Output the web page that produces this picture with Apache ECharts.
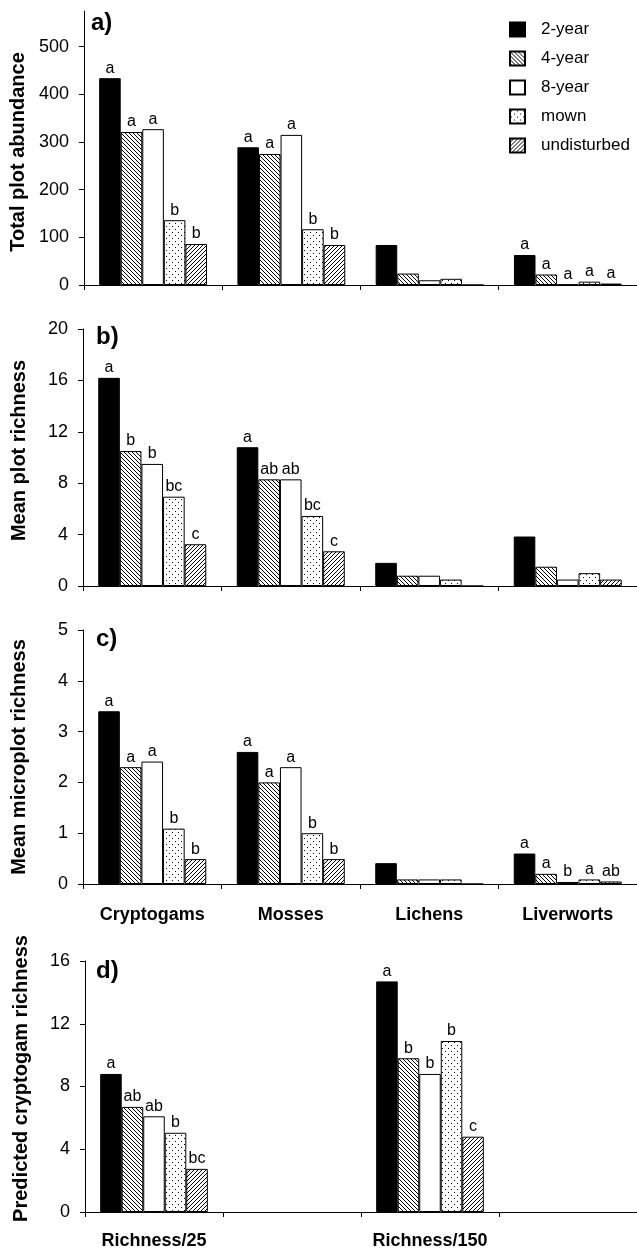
<!DOCTYPE html>
<html lang="en">
<head>
<meta charset="UTF-8">
<title>Cryptogam abundance and richness</title>
<script src="https://cdn.jsdelivr.net/npm/echarts@6/dist/echarts.min.js"></script>
<style>
  html, body { margin: 0; padding: 0; background: #fff; }
  #chart { width: 637px; height: 1250px; }
</style>
</head>
<body>
<div id="chart"></div>
<script>
// ---- data (rows = treatment, columns = group) ----
var groups = ['Cryptogams', 'Mosses', 'Lichens', 'Liverworts'];
var groupsD = ['Richness/25', ' ', 'Richness/150', '  '];
var treatments = ['2-year', '4-year', '8-year', 'mown', 'undisturbed'];

// a) total plot abundance
var abundance = [
    [434, 289, 84, 63],
    [321, 275, 24, 22],
    [327, 315, 10, 1],
    [136, 117, 13, 7],
    [86, 84, 0, 3]
];
var abundanceLetters = [
    ['a', 'a', '', 'a'],
    ['a', 'a', '', 'a'],
    ['a', 'a', '', 'a'],
    ['b', 'b', '', 'a'],
    ['b', 'b', '', 'a']
];
var abundanceTicks = [0, 100, 200, 300, 400, 500];

// b) mean plot richness
var plotRich = [
    [16.2, 10.8, 1.8, 3.85],
    [10.5, 8.3, 0.8, 1.5],
    [9.5, 8.3, 0.8, 0.5],
    [6.95, 5.45, 0.5, 1.0],
    [3.25, 2.7, 0, 0.5]
];
var plotRichLetters = [
    ['a', 'a', '', ''],
    ['b', 'ab', '', ''],
    ['b', 'ab', '', ''],
    ['bc', 'bc', '', ''],
    ['c', 'c', '', '']
];

// c) mean microplot richness
var microRich = [
    [3.4, 2.6, 0.41, 0.6],
    [2.3, 2.0, 0.09, 0.2],
    [2.41, 2.3, 0.09, 0.04],
    [1.09, 1.0, 0.09, 0.09],
    [0.49, 0.49, 0, 0.05]
];
var microRichLetters = [
    ['a', 'a', '', 'a'],
    ['a', 'a', '', 'a'],
    ['a', 'a', '', 'b'],
    ['b', 'b', '', 'a'],
    ['b', 'b', '', 'ab']
];

// d) predicted cryptogam richness
var predRich = [
    [8.8, null, 14.7, null],
    [6.7, null, 9.8, null],
    [6.1, null, 8.8, null],
    [5.05, null, 10.9, null],
    [2.75, null, 4.8, null]
];
var predRichLetters = [
    ['a', '', 'a', ''],
    ['ab', '', 'b', ''],
    ['ab', '', 'b', ''],
    ['b', '', 'b', ''],
    ['bc', '', 'c', '']
];

// ---- fill patterns ----
function pattern(size, draw) {
    var c = document.createElement('canvas');
    c.width = size; c.height = size;
    var ctx = c.getContext('2d');
    ctx.fillStyle = '#fff';
    ctx.fillRect(0, 0, size, size);
    ctx.fillStyle = '#000';
    draw(ctx, size);
    return { image: c, repeat: 'repeat' };
}
var fills = [
    '#000',
    pattern(4, function (ctx, n) { for (var i = 0; i < n; i++) ctx.fillRect(i, i, 1, 1); }),       // "\\\\"
    '#fff',
    pattern(6, function (ctx) { ctx.fillRect(1, 1, 1, 1); ctx.fillRect(4, 4, 1, 1); }),           // dots
    pattern(4, function (ctx, n) { for (var i = 0; i < n; i++) ctx.fillRect(i, n - 1 - i, 1, 1); }) // "////"
];

var font = 'Liberation Sans, Arial, sans-serif';

var panels = [
    { data: abundance, letters: abundanceLetters },
    { data: plotRich, letters: plotRichLetters },
    { data: microRich, letters: microRichLetters },
    { data: predRich, letters: predRichLetters }
];

var series = [];
panels.forEach(function (p, pi) {
    treatments.forEach(function (t, ti) {
        series.push({
            name: t,
            type: 'bar',
            xAxisIndex: pi,
            yAxisIndex: pi,
            data: p.data[ti],
            barGap: '0%',
            barCategoryGap: '22%',
            itemStyle: { color: fills[ti], borderColor: '#000', borderWidth: 1 },
            label: {
                show: true,
                position: 'top',
                distance: 2,
                color: '#000',
                fontFamily: font,
                fontSize: 16,
                formatter: function (prm) { return p.letters[ti][prm.dataIndex]; }
            },
            emphasis: { disabled: true },
            animation: false
        });
    });
});

// pad shifts the rotated axis name along the axis (left = up, right = down)
function yAxis(name, max, interval, pad, ticks) {
    var tick = { show: true, length: 5, lineStyle: { color: '#000' } };
    var label = { color: '#000', fontFamily: font, fontSize: 18, margin: 15 };
    if (ticks) { tick.customValues = ticks; label.customValues = ticks; }
    return {
        type: 'value',
        min: 0,
        max: max,
        interval: interval,
        name: name,
        nameLocation: 'middle',
        nameGap: 54,
        nameTextStyle: { fontFamily: font, fontSize: 20, fontWeight: 'bold', color: '#000', padding: pad },
        axisLine: { show: true, lineStyle: { color: '#000', width: 1 } },
        axisTick: tick,
        axisLabel: label,
        splitLine: { show: false }
    };
}

function xAxis(cats, showLabel, margin) {
    return {
        type: 'category',
        data: cats,
        axisLine: { lineStyle: { color: '#000', width: 1 } },
        axisTick: { show: true, length: 5, lineStyle: { color: '#000' } },
        axisLabel: {
            show: showLabel, interval: 0, color: '#000',
            fontFamily: font, fontSize: 18, fontWeight: 'bold', margin: margin
        },
        splitLine: { show: false }
    };
}

var yAxes = [
    yAxis('Total plot abundance', 575, 100, [0, 8, 0, 0], abundanceTicks),
    yAxis('Mean plot richness', 20, 4, [0, 0, 0, 14]),
    yAxis('Mean microplot richness', 5, 1, [0, 0, 0, 0]),
    yAxis('Predicted cryptogam richness', 16, 4, [0, 0, 0, 16])
];
yAxes.forEach(function (a, i) { a.gridIndex = i; });

var xAxes = [xAxis(groups, false, 22), xAxis(groups, false, 22), xAxis(groups, true, 22), xAxis(groupsD, true, 20)];
xAxes.forEach(function (a, i) { a.gridIndex = i; });

function panelTitle(txt, left, top) {
    return { text: txt, left: left, top: top, padding: 0,
        textStyle: { fontFamily: font, fontSize: 24, fontWeight: 'bold', color: '#000' } };
}

var myChart = echarts.init(document.getElementById('chart'), null, { renderer: 'canvas' });
var option = {
    backgroundColor: '#fff',
    animation: false,
    title: [
        panelTitle('a)', 91, 11),
        panelTitle('b)', 96, 325),
        panelTitle('c)', 96, 627),
        panelTitle('d)', 96, 959)
    ],
    legend: {
        data: treatments,
        orient: 'vertical',
        left: 504,
        top: 16,
        itemWidth: 15,
        itemHeight: 14,
        itemGap: 12,
        icon: 'rect',
        textStyle: { fontFamily: font, fontSize: 17, color: '#000', padding: [0, 0, 0, 11] },
        selectedMode: false
    },
    grid: [
        { left: 83, top: 11, width: 556, height: 274 },
        { left: 83, top: 329, width: 556, height: 257 },
        { left: 83, top: 630, width: 556, height: 254 },
        { left: 85, top: 961, width: 552, height: 252 }
    ],
    xAxis: xAxes,
    yAxis: yAxes,
    series: series
};
myChart.setOption(option);
</script>
</body>
</html>
